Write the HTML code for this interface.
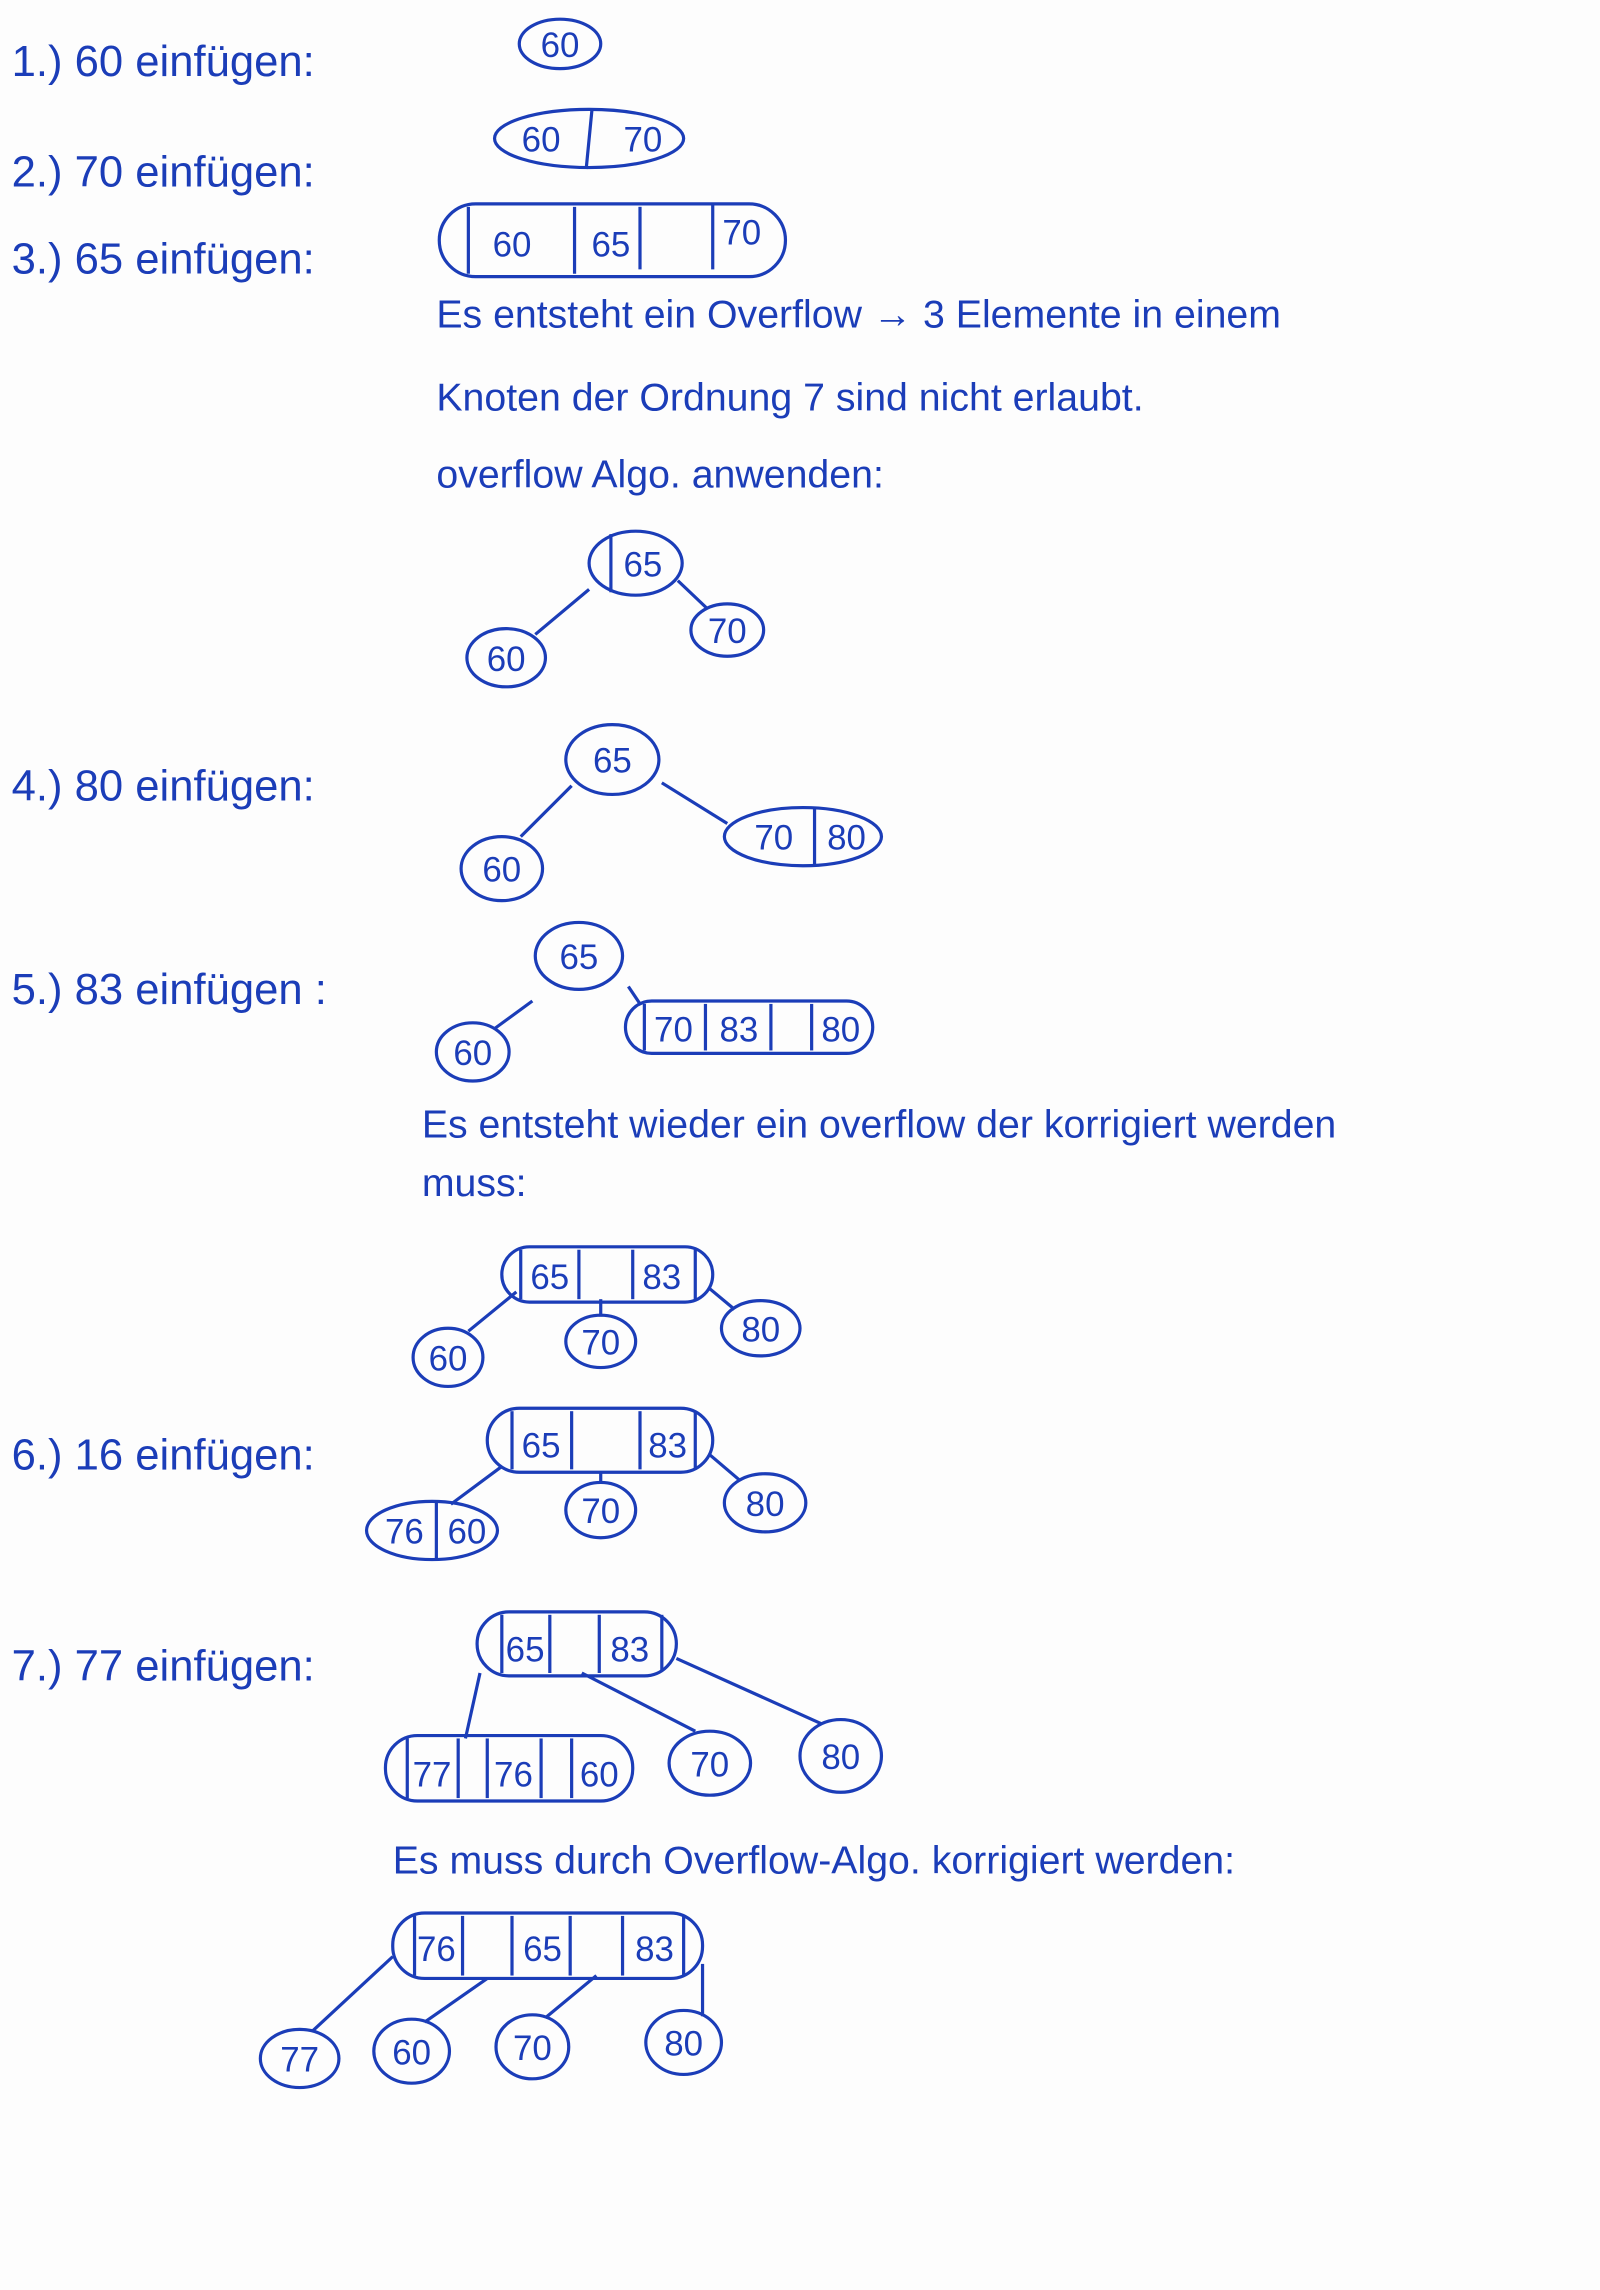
<!DOCTYPE html>
<html><head><meta charset="utf-8"><style>
html,body{margin:0;padding:0;background:#fdfdfd;}
svg{display:block}
text{font-family:"Liberation Sans",sans-serif;fill:#1b3db8;}
.s{fill:none;stroke:#1b3db8;stroke-width:2.2;}
</style></head><body>
<svg width="1600" height="2290" viewBox="0 0 1100 1574" xmlns="http://www.w3.org/2000/svg">
<g font-size="30">
<text x="8" y="52">1.) 60 einfügen:</text>
<text x="8" y="128">2.) 70 einfügen:</text>
<text x="8" y="188">3.) 65 einfügen:</text>
<text x="8" y="550">4.) 80 einfügen:</text>
<text x="8" y="690">5.) 83 einfügen :</text>
<text x="8" y="1010">6.) 16 einfügen:</text>
<text x="8" y="1155">7.) 77 einfügen:</text>
</g>
<g font-size="27">
<text x="300" y="225">Es entsteht ein Overflow → 3 Elemente in einem</text>
<text x="300" y="282">Knoten der Ordnung 7 sind nicht erlaubt.</text>
<text x="300" y="335">overflow Algo. anwenden:</text>
<text x="290" y="782">Es entsteht wieder ein overflow der korrigiert werden</text>
<text x="290" y="822">muss:</text>
<text x="270" y="1288">Es muss durch Overflow-Algo. korrigiert werden:</text>
</g>
<g font-size="24" text-anchor="middle">
<!-- 1 -->
<ellipse class="s" cx="385" cy="30" rx="28" ry="17"/><text x="385" y="39">60</text>
<!-- 2 -->
<ellipse class="s" cx="405" cy="95" rx="65" ry="20"/><line class="s" x1="407" y1="75" x2="403" y2="116"/>
<text x="372" y="104">60</text><text x="442" y="104">70</text>
<!-- 3 -->
<rect class="s" x="302" y="140" width="238" height="50" rx="25"/>
<line class="s" x1="322" y1="142" x2="322" y2="188"/><line class="s" x1="395" y1="142" x2="395" y2="188"/><line class="s" x1="440" y1="142" x2="440" y2="185"/><line class="s" x1="490" y1="140" x2="490" y2="185"/>
<text x="352" y="176">60</text><text x="420" y="176">65</text><text x="510" y="168">70</text>
<!-- tree 3 -->
<ellipse class="s" cx="437" cy="387" rx="32" ry="22"/><line class="s" x1="420" y1="367" x2="420" y2="407"/><text x="442" y="396">65</text>
<ellipse class="s" cx="348" cy="452" rx="27" ry="20"/><text x="348" y="461">60</text>
<ellipse class="s" cx="500" cy="433" rx="25" ry="18"/><text x="500" y="442">70</text>
<line class="s" x1="405" y1="405" x2="368" y2="436"/><line class="s" x1="466" y1="399" x2="486" y2="418"/>
<!-- 4 -->
<ellipse class="s" cx="421" cy="522" rx="32" ry="24"/><text x="421" y="531">65</text>
<ellipse class="s" cx="345" cy="597" rx="28" ry="22"/><text x="345" y="606">60</text>
<ellipse class="s" cx="552" cy="575" rx="54" ry="20"/><line class="s" x1="560" y1="556" x2="560" y2="594"/>
<text x="532" y="584">70</text><text x="582" y="584">80</text>
<line class="s" x1="393" y1="540" x2="358" y2="575"/><line class="s" x1="455" y1="538" x2="500" y2="566"/>
<!-- 5 -->
<ellipse class="s" cx="398" cy="657" rx="30" ry="23"/><text x="398" y="666">65</text>
<ellipse class="s" cx="325" cy="723" rx="25" ry="20"/><text x="325" y="732">60</text>
<rect class="s" x="430" y="688" width="170" height="36" rx="18"/>
<line class="s" x1="443" y1="690" x2="443" y2="722"/><line class="s" x1="485" y1="690" x2="485" y2="722"/><line class="s" x1="530" y1="690" x2="530" y2="722"/><line class="s" x1="558" y1="690" x2="558" y2="722"/>
<text x="463" y="716">70</text><text x="508" y="716">83</text><text x="578" y="716">80</text>
<line class="s" x1="366" y1="688" x2="340" y2="707"/><line class="s" x1="432" y1="678" x2="440" y2="690"/>
<!-- tree 5 -->
<rect class="s" x="345" y="857" width="145" height="38" rx="19"/>
<line class="s" x1="358" y1="859" x2="358" y2="893"/><line class="s" x1="398" y1="859" x2="398" y2="893"/><line class="s" x1="435" y1="859" x2="435" y2="893"/><line class="s" x1="478" y1="859" x2="478" y2="893"/>
<text x="378" y="886">65</text><text x="455" y="886">83</text>
<ellipse class="s" cx="308" cy="933" rx="24" ry="20"/><text x="308" y="942">60</text>
<ellipse class="s" cx="413" cy="922" rx="24" ry="18"/><text x="413" y="931">70</text>
<ellipse class="s" cx="523" cy="913" rx="27" ry="19"/><text x="523" y="922">80</text>
<line class="s" x1="355" y1="888" x2="322" y2="915"/><line class="s" x1="413" y1="893" x2="413" y2="905"/><line class="s" x1="487" y1="885" x2="505" y2="900"/>
<!-- 6 -->
<rect class="s" x="335" y="968" width="155" height="44" rx="22"/>
<line class="s" x1="352" y1="970" x2="352" y2="1010"/><line class="s" x1="393" y1="970" x2="393" y2="1010"/><line class="s" x1="440" y1="970" x2="440" y2="1010"/><line class="s" x1="478" y1="970" x2="478" y2="1010"/>
<text x="372" y="1002">65</text><text x="459" y="1002">83</text>
<ellipse class="s" cx="297" cy="1052" rx="45" ry="20"/><line class="s" x1="300" y1="1033" x2="300" y2="1071"/>
<text x="278" y="1061">76</text><text x="321" y="1061">60</text>
<ellipse class="s" cx="413" cy="1038" rx="24" ry="19"/><text x="413" y="1047">70</text>
<ellipse class="s" cx="526" cy="1033" rx="28" ry="20"/><text x="526" y="1042">80</text>
<line class="s" x1="345" y1="1008" x2="310" y2="1034"/><line class="s" x1="413" y1="1012" x2="413" y2="1019"/><line class="s" x1="488" y1="1000" x2="508" y2="1017"/>
<!-- 7 -->
<rect class="s" x="328" y="1108" width="137" height="44" rx="22"/>
<line class="s" x1="345" y1="1110" x2="345" y2="1150"/><line class="s" x1="378" y1="1110" x2="378" y2="1150"/><line class="s" x1="412" y1="1110" x2="412" y2="1150"/><line class="s" x1="455" y1="1110" x2="455" y2="1148"/>
<text x="361" y="1142">65</text><text x="433" y="1142">83</text>
<rect class="s" x="265" y="1193" width="170" height="45" rx="22"/>
<line class="s" x1="280" y1="1195" x2="280" y2="1236"/><line class="s" x1="315" y1="1195" x2="315" y2="1236"/><line class="s" x1="335" y1="1195" x2="335" y2="1236"/><line class="s" x1="372" y1="1195" x2="372" y2="1236"/><line class="s" x1="393" y1="1195" x2="393" y2="1236"/>
<text x="297" y="1228">77</text><text x="353" y="1228">76</text><text x="412" y="1228">60</text>
<ellipse class="s" cx="488" cy="1212" rx="28" ry="22"/><text x="488" y="1221">70</text>
<ellipse class="s" cx="578" cy="1207" rx="28" ry="25"/><text x="578" y="1216">80</text>
<line class="s" x1="330" y1="1150" x2="320" y2="1195"/><line class="s" x1="400" y1="1150" x2="478" y2="1190"/><line class="s" x1="465" y1="1140" x2="565" y2="1185"/>
<!-- final -->
<rect class="s" x="270" y="1315" width="213" height="45" rx="22"/>
<line class="s" x1="285" y1="1317" x2="285" y2="1358"/><line class="s" x1="318" y1="1317" x2="318" y2="1358"/><line class="s" x1="352" y1="1317" x2="352" y2="1358"/><line class="s" x1="392" y1="1317" x2="392" y2="1358"/><line class="s" x1="428" y1="1317" x2="428" y2="1358"/><line class="s" x1="470" y1="1317" x2="470" y2="1358"/>
<text x="300" y="1348">76</text><text x="373" y="1348">65</text><text x="450" y="1348">83</text>
<ellipse class="s" cx="206" cy="1415" rx="27" ry="20"/><text x="206" y="1424">77</text>
<ellipse class="s" cx="283" cy="1410" rx="26" ry="22"/><text x="283" y="1419">60</text>
<ellipse class="s" cx="366" cy="1407" rx="25" ry="22"/><text x="366" y="1416">70</text>
<ellipse class="s" cx="470" cy="1404" rx="26" ry="22"/><text x="470" y="1413">80</text>
<line class="s" x1="270" y1="1345" x2="215" y2="1396"/><line class="s" x1="335" y1="1360" x2="292" y2="1390"/><line class="s" x1="410" y1="1358" x2="375" y2="1387"/><line class="s" x1="483" y1="1350" x2="483" y2="1386"/>
</g>
</svg>
</body></html>
